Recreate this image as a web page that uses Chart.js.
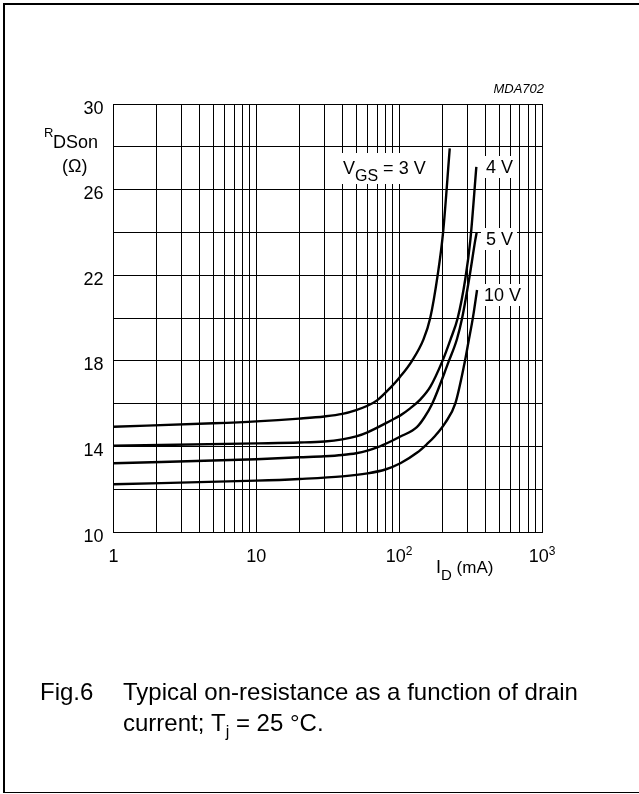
<!DOCTYPE html>
<html>
<head>
<meta charset="utf-8">
<script src="https://cdn.jsdelivr.net/npm/chart.js@4.4.0/dist/chart.umd.min.js"></script>
<style>
  html, body { margin: 0; padding: 0; background: #fff; }
  #wrap { position: relative; width: 639px; height: 794px; }
</style>
</head>
<body>
<div id="wrap"><canvas id="rdsChart" width="639" height="794"></canvas></div>
<script>
// drain current (mA) and on-resistance (ohm)
const ID_3V  = [1, 5, 10, 20, 30, 40, 50, 60, 70, 87, 100, 123, 148, 165, 186, 203, 226];
const R_3V   = [14.92, 15.08, 15.17, 15.3, 15.4, 15.52, 15.7, 15.9, 16.15, 16.75, 17.2, 18.0, 19.0, 20.0, 22.0, 24.0, 27.93];
const ID_4V  = [1, 10, 20, 30, 40, 50, 60, 87, 102, 120, 141, 165, 200, 228, 257, 290, 315, 347];
const R_4V   = [14.03, 14.14, 14.18, 14.23, 14.33, 14.47, 14.66, 15.2, 15.45, 15.79, 16.2, 16.78, 17.96, 18.97, 20.0, 21.8, 23.64, 27.06];
const ID_5V  = [1, 10, 20, 30, 40, 50, 60, 70, 87, 102, 133, 150, 170, 222, 254, 276, 312, 341, 349];
const R_5V   = [13.21, 13.4, 13.49, 13.54, 13.6, 13.68, 13.8, 13.95, 14.23, 14.46, 14.9, 15.35, 15.98, 17.96, 19.02, 20.0, 22.0, 23.64, 24.0];
const ID_10V = [1, 10, 20, 40, 60, 80, 102, 133, 156, 179, 210, 247, 286, 306, 329, 351];
const R_10V  = [12.23, 12.4, 12.48, 12.6, 12.74, 12.92, 13.21, 13.7, 14.1, 14.5, 15.1, 16.0, 17.85, 18.9, 20.05, 21.31];

// axis ticks
const X_GRID = [1,2,3,4,5,6,7,8,9,10,20,30,40,50,60,70,80,90,100,200,300,400,500,600,700,800,900,1000];
const X_LABELS = [[1, '1', ''], [10, '10', ''], [100, '10', '2'], [1000, '10', '3']];
const Y_GRID = [10,12,14,16,18,20,22,24,26,28,30];
const Y_LABELS = [10, 14, 18, 22, 26, 30];

const FONT = '"Liberation Sans", Arial, sans-serif';

function pts(xs, ys){
  return xs.map((x, i) => ({x: x, y: ys[i]}));
}

function curve(xs, ys){
  return {
    data: pts(xs, ys),
    showLine: true,
    borderColor: '#000',
    borderWidth: 2.4,
    pointRadius: 0,
    cubicInterpolationMode: 'monotone',
    fill: false
  };
}

// text helper: parts = [[text, size, dy], ...] drawn one after another
function runText(ctx, x, y, parts, italic){
  parts.forEach(p => {
    ctx.font = (italic ? 'italic ' : '') + p[1] + 'px ' + FONT;
    ctx.fillText(p[0], x, y + (p[2] || 0));
    x += ctx.measureText(p[0]).width;
  });
  return x;
}
function runWidth(ctx, parts){
  let w = 0;
  parts.forEach(p => { ctx.font = p[1] + 'px ' + FONT; w += ctx.measureText(p[0]).width; });
  return w;
}

const decorations = {
  id: 'decorations',
  beforeDraw(chart){
    const ctx = chart.ctx;
    ctx.save();
    ctx.fillStyle = '#fff';
    ctx.fillRect(0, 0, chart.width, chart.height);
    ctx.fillStyle = '#000';
    // page frame
    ctx.fillRect(3, 3, 636, 2);
    ctx.fillRect(3, 3, 2, 790);
    ctx.fillRect(3, 792, 636, 1);
    ctx.restore();
  },
  afterDraw(chart){
    const ctx = chart.ctx;
    const xs = chart.scales.x, ys = chart.scales.y;
    const area = chart.chartArea;
    ctx.save();
    ctx.fillStyle = '#000';
    ctx.textBaseline = 'alphabetic';

    // y tick labels
    ctx.textAlign = 'right';
    ctx.font = '18px ' + FONT;
    Y_LABELS.forEach(v => {
      ctx.fillText(String(v), area.left - 10, ys.getPixelForValue(v) + 9.5);
    });

    // x tick labels with exponents
    ctx.textAlign = 'left';
    X_LABELS.forEach(l => {
      const parts = [[l[1], 18, 0]];
      if (l[2]) parts.push([l[2], 12, -7]);
      const w = runWidth(ctx, parts);
      runText(ctx, xs.getPixelForValue(l[0]) - w / 2, area.bottom + 30, parts);
    });

    // axis titles
    runText(ctx, 44, 137, [['R', 13, 0]]);
    runText(ctx, 53, 148, [['DSon', 18, 0]]);
    runText(ctx, 62, 171.5, [['(\u03A9)', 18, 0]]);
    runText(ctx, 436, area.bottom + 41, [['I', 18, 0], ['D', 15, 7], [' (mA)', 17, 0]]);

    // figure code
    ctx.textAlign = 'right';
    ctx.font = 'italic 13px ' + FONT;
    ctx.fillText('MDA702', area.right + 2, 93);
    ctx.textAlign = 'left';

    // curve labels on white boxes
    const boxes = [
      [338, 153, 96, 31, 343, 174.3, [['V', 18, 0], ['GS', 16, 7], [' = 3 V', 18, 0]]],
      [481, 156, 36, 22, 486, 173.3, [['4 V', 18, 0]]],
      [481, 228, 36, 22, 486, 245, [['5 V', 18, 0]]],
      [479, 284, 45, 22, 484, 300.7, [['10 V', 18, 0]]]
    ];
    boxes.forEach(b => {
      ctx.fillStyle = '#fff';
      ctx.fillRect(b[0], b[1], b[2], b[3]);
      ctx.fillStyle = '#000';
      runText(ctx, b[4], b[5], b[6]);
    });

    // caption
    ctx.font = '24px ' + FONT;
    ctx.fillText('Fig.6', 40, 700);
    ctx.fillText('Typical on-resistance as a function of drain', 123, 700);
    runText(ctx, 123, 731, [['current; T', 24, 0], ['j', 16, 6], [' = 25 \u00B0C.', 24, 0]]);
    ctx.restore();
  }
};

new Chart(document.getElementById('rdsChart'), {
  type: 'scatter',
  data: {
    datasets: [
      curve(ID_3V, R_3V),
      curve(ID_4V, R_4V),
      curve(ID_5V, R_5V),
      curve(ID_10V, R_10V)
    ]
  },
  options: {
    responsive: false,
    animation: false,
    devicePixelRatio: 1,
    layout: { padding: { left: 113.5, top: 104, right: 97, bottom: 262 } },
    plugins: { legend: { display: false }, tooltip: { enabled: false } },
    scales: {
      x: {
        type: 'logarithmic',
        min: 1,
        max: 1000,
        afterBuildTicks: s => { s.ticks = X_GRID.map(v => ({value: v})); },
        ticks: { display: false, autoSkip: false },
        grid: { color: '#000', lineWidth: 1, drawTicks: false },
        border: { color: '#000', width: 1 }
      },
      y: {
        min: 10,
        max: 30,
        afterBuildTicks: s => { s.ticks = Y_GRID.map(v => ({value: v})); },
        ticks: { display: false, autoSkip: false },
        grid: { color: '#000', lineWidth: 1, drawTicks: false },
        border: { color: '#000', width: 1 }
      }
    }
  },
  plugins: [decorations]
});
</script>
</body>
</html>
